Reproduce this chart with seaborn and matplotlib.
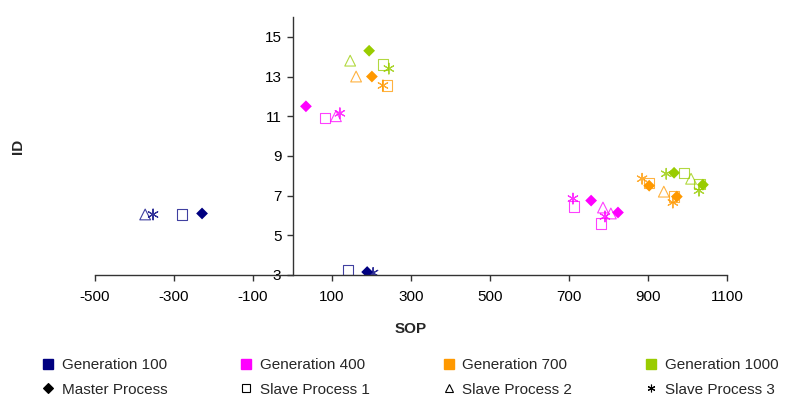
import numpy as np
import pandas as pd
import matplotlib
matplotlib.use("Agg")
import matplotlib.pyplot as plt
import seaborn as sns
from matplotlib.lines import Line2D

sns.set_theme(style="white")
plt.rcParams['font.family'] = ['Liberation Sans', 'DejaVu Sans']
plt.rcParams['axes.unicode_minus'] = False

generations = ["Generation 100", "Generation 400", "Generation 700", "Generation 1000"]
gen_colors = ["#000080", "#FF00FF", "#FF9900", "#99CC00"]
processes = ["Master Process", "Slave Process 1", "Slave Process 2", "Slave Process 3"]

# SOP / ID values per generation and process
g100_master_sop = [-229, 189]
g100_master_id = [6.1, 3.15]
g100_slave1_sop = [-280, 140]
g100_slave1_id = [6.05, 3.25]
g100_slave2_sop = [-373]
g100_slave2_id = [6.05]
g100_slave3_sop = [-353, 204]
g100_slave3_id = [6.05, 3.1]

g400_master_sop = [34, 756, 824]
g400_master_id = [11.5, 6.75, 6.15]
g400_slave1_sop = [82, 713, 781]
g400_slave1_id = [10.9, 6.45, 5.6]
g400_slave2_sop = [110, 786, 806]
g400_slave2_id = [11.0, 6.4, 6.1]
g400_slave3_sop = [120, 710, 791]
g400_slave3_id = [11.15, 6.85, 5.95]

g700_master_sop = [201, 903, 973]
g700_master_id = [13.0, 7.5, 6.95]
g700_slave1_sop = [239, 903, 966]
g700_slave1_id = [12.55, 7.65, 6.95]
g700_slave2_sop = [161, 940]
g700_slave2_id = [13.0, 7.2]
g700_slave3_sop = [229, 885, 963]
g700_slave3_id = [12.55, 7.85, 6.65]

g1000_master_sop = [194, 966, 1039]
g1000_master_id = [14.3, 8.15, 7.55]
g1000_slave1_sop = [229, 991, 1030]
g1000_slave1_id = [13.6, 8.15, 7.6]
g1000_slave2_sop = [146, 1009]
g1000_slave2_id = [13.8, 7.85]
g1000_slave3_sop = [244, 946, 1029]
g1000_slave3_id = [13.4, 8.1, 7.25]

series = {
    ("Generation 100", "Master Process"): (g100_master_sop, g100_master_id),
    ("Generation 100", "Slave Process 1"): (g100_slave1_sop, g100_slave1_id),
    ("Generation 100", "Slave Process 2"): (g100_slave2_sop, g100_slave2_id),
    ("Generation 100", "Slave Process 3"): (g100_slave3_sop, g100_slave3_id),
    ("Generation 400", "Master Process"): (g400_master_sop, g400_master_id),
    ("Generation 400", "Slave Process 1"): (g400_slave1_sop, g400_slave1_id),
    ("Generation 400", "Slave Process 2"): (g400_slave2_sop, g400_slave2_id),
    ("Generation 400", "Slave Process 3"): (g400_slave3_sop, g400_slave3_id),
    ("Generation 700", "Master Process"): (g700_master_sop, g700_master_id),
    ("Generation 700", "Slave Process 1"): (g700_slave1_sop, g700_slave1_id),
    ("Generation 700", "Slave Process 2"): (g700_slave2_sop, g700_slave2_id),
    ("Generation 700", "Slave Process 3"): (g700_slave3_sop, g700_slave3_id),
    ("Generation 1000", "Master Process"): (g1000_master_sop, g1000_master_id),
    ("Generation 1000", "Slave Process 1"): (g1000_slave1_sop, g1000_slave1_id),
    ("Generation 1000", "Slave Process 2"): (g1000_slave2_sop, g1000_slave2_id),
    ("Generation 1000", "Slave Process 3"): (g1000_slave3_sop, g1000_slave3_id),
}

x_ticks = [-500, -300, -100, 100, 300, 500, 700, 900, 1100]
y_ticks = [3, 5, 7, 9, 11, 13, 15]

rows = []
for (g, p), (xs, ys) in series.items():
    for xv, yv in zip(xs, ys):
        rows.append({"SOP": xv, "ID": yv, "Generation": g, "Process": p})
df = pd.DataFrame(rows)

palette = dict(zip(generations, gen_colors))
proc_marker = {
    "Master Process": ("D", True, 36),
    "Slave Process 1": ("s", False, 55),
    "Slave Process 2": ("^", False, 60),
    "Slave Process 3": ((6, 2, 0), None, 60),
}

fig = plt.figure(figsize=(7.85, 4.03), dpi=100)
ax = fig.add_axes([95/785, 1 - 275/403, 632/785, 258/403])

for p in processes:
    sub = df[df["Process"] == p]
    mk, filled, size = proc_marker[p]
    if filled is True:
        sns.scatterplot(data=sub, x="SOP", y="ID", hue="Generation", hue_order=generations,
                        palette=palette, marker=mk, s=size, linewidth=0, ax=ax, legend=False)
    else:
        sns.scatterplot(data=sub, x="SOP", y="ID", hue="Generation", hue_order=generations,
                        palette=palette, marker=mk, s=size, linewidth=0.8, ax=ax, legend=False)
    coll = ax.collections[-1]
    if filled is False:
        fc = coll.get_facecolors()
        fc[:, 3] = 0.75
        coll.set_edgecolors(fc)
        coll.set_facecolors("none")
        coll.set_linewidth(0.8)
    elif filled is None:
        coll.set_alpha(0.8)
        coll.set_linewidth(0.8)

ax.set_xlim(-500, 1100)
ax.set_ylim(3, 16)
ax.set_xticks(x_ticks)
ax.set_xticklabels([str(v) for v in x_ticks])
ax.set_yticks(y_ticks)
ax.set_yticklabels([str(v) for v in y_ticks])

ax.spines["top"].set_visible(False)
ax.spines["right"].set_visible(False)
ax.spines["left"].set_position(("data", 0))
for s in ["left", "bottom"]:
    ax.spines[s].set_color("#333333")
    ax.spines[s].set_linewidth(1.0)
ax.tick_params(axis="both", which="major", direction="out", length=4, width=1,
               color="#333333", labelsize=11, labelcolor="black", pad=4)
ax.tick_params(axis="x", bottom=True, pad=7)
ax.tick_params(axis="y", left=True)

ax.set_xlabel("SOP", fontsize=11, fontweight="bold", labelpad=13)
ax.set_ylabel("")
fig.text(18/785, 1 - 146/403, "ID", rotation=90, fontsize=11, fontweight="bold",
         ha="center", va="center")

handles = []
labels = []
for g, p in zip(generations, processes):
    handles.append(Line2D([], [], linestyle="none", marker="s", markersize=6.5,
                          markerfacecolor=palette[g], markeredgecolor=palette[g]))
    labels.append(g)
    mk = proc_marker[p][0]
    fill = proc_marker[p][1]
    handles.append(Line2D([], [], linestyle="none", marker=mk, markersize=5.5,
                          markerfacecolor="black" if fill else "none",
                          markeredgecolor="black", markeredgewidth=0.8))
    labels.append(p)

leg = fig.legend(handles, labels, ncol=4, loc="upper left",
                 bbox_to_anchor=(36/785, 1 - 352/403), frameon=False,
                 fontsize=11, handlelength=0.8, handletextpad=0.5,
                 columnspacing=4.75, labelspacing=0.7, borderaxespad=0)

fig.savefig("out.png", dpi=100)
